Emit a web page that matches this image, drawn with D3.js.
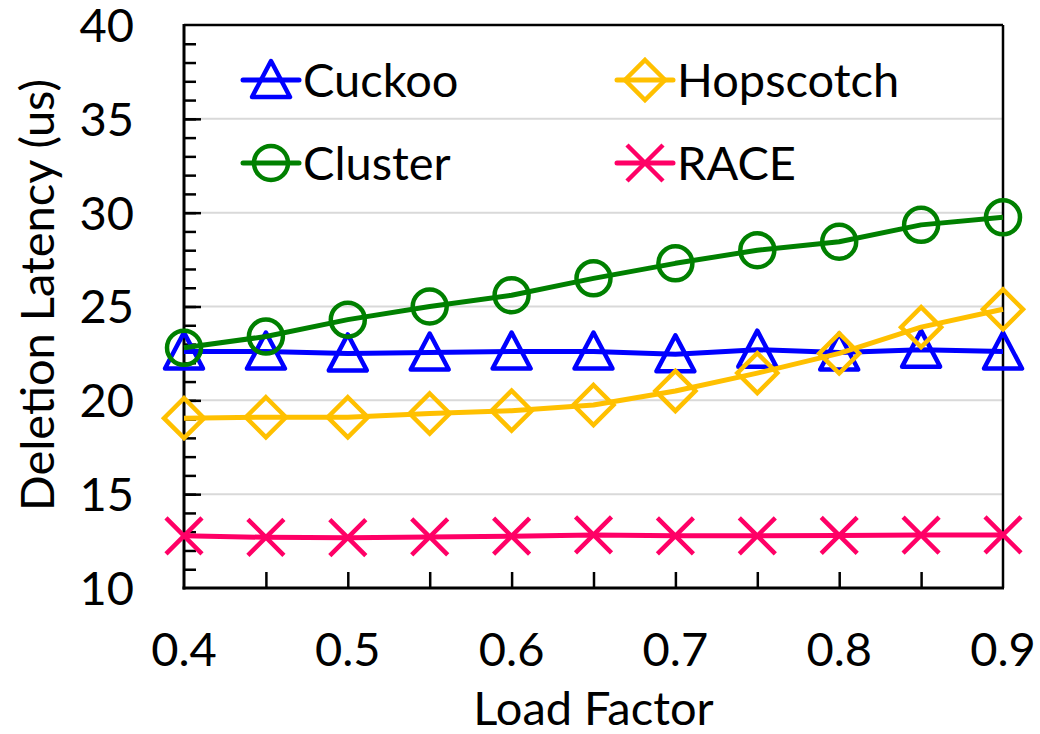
<!DOCTYPE html>
<html lang="en">
<head>
<meta charset="UTF-8">
<script src="https://cdn.jsdelivr.net/npm/d3@7/dist/d3.min.js"></script>
<title>Deletion Latency</title>
<style>
  body { margin: 0; background: #fff; }
  text { font-family: Lato, "Noto Sans", sans-serif; fill: #000; }
</style>
</head>
<body>
<script>
// data
const loadFactors = [0.4, 0.45, 0.5, 0.55, 0.6, 0.65, 0.7, 0.75, 0.8, 0.85, 0.9]
const cuckoo    = [22.6, 22.6, 22.5, 22.55, 22.6, 22.6, 22.45, 22.7, 22.55, 22.7, 22.6]
const cluster   = [22.8, 23.4, 24.3, 25.0, 25.6, 26.5, 27.3, 28.0, 28.45, 29.35, 29.75]
const hopscotch = [19.05, 19.1, 19.1, 19.3, 19.45, 19.75, 20.5, 21.45, 22.5, 23.9, 24.85]
const race      = [12.78, 12.7, 12.68, 12.72, 12.76, 12.83, 12.78, 12.78, 12.8, 12.82, 12.83]
const xTickLabels = [0.4, 0.5, 0.6, 0.7, 0.8, 0.9]
const yTickLabels = [10, 15, 20, 25, 30, 35, 40]

const series = [
  {name: "Cuckoo",    values: cuckoo,    color: "#0000ff", marker: "triangle"},
  {name: "Cluster",   values: cluster,   color: "#008000", marker: "circle"},
  {name: "Hopscotch", values: hopscotch, color: "#ffc000", marker: "diamond"},
  {name: "RACE",      values: race,      color: "#ff0066", marker: "cross"},
]

const width = 1040, height = 734
const pLeft = 184, pRight = 1003, pTop = 25, pBottom = 588
const fontSize = 47

const svg = d3.select("body").append("svg").attr("width", width).attr("height", height)

const x = d3.scaleLinear().domain([0.4, 0.9]).range([pLeft, pRight])
const y = d3.scaleLinear().domain([10, 40]).range([pBottom, pTop])

// grid lines
svg.append("g").selectAll("line")
  .data(yTickLabels.filter(v => v > 10 && v < 40))
  .join("line")
  .attr("x1", pLeft).attr("x2", pRight)
  .attr("y1", d => y(d)).attr("y2", d => y(d))
  .attr("stroke", "#d9d9d9").attr("stroke-width", 2)

// frame top/right
svg.append("line").attr("x1", pLeft).attr("x2", pRight).attr("y1", pTop).attr("y2", pTop)
  .attr("stroke", "#000").attr("stroke-width", 2.5)
svg.append("line").attr("x1", pRight).attr("x2", pRight).attr("y1", pTop).attr("y2", pBottom)
  .attr("stroke", "#000").attr("stroke-width", 2.5)

// y axis: minor ticks every 1, major every 5 (inside)
const yMinor = d3.axisRight(y).tickValues(d3.range(11, 40)).tickSize(12).tickFormat("")
const gyMinor = svg.append("g").attr("transform", `translate(${pLeft},0)`).call(yMinor)
gyMinor.select(".domain").remove()
gyMinor.selectAll("line").attr("stroke", "#000").attr("stroke-width", 2.5)

const yMajor = d3.axisRight(y).tickValues(yTickLabels.slice(1, -1)).tickSize(17).tickFormat("")
const gyMajor = svg.append("g").attr("transform", `translate(${pLeft},0)`).call(yMajor)
gyMajor.select(".domain").remove()
gyMajor.selectAll("line").attr("stroke", "#000").attr("stroke-width", 2.5)

// y labels
svg.append("g").selectAll("text")
  .data(yTickLabels)
  .join("text")
  .attr("x", 134).attr("y", d => y(d))
  .attr("dy", "0.36em")
  .attr("text-anchor", "end")
  .attr("font-size", fontSize)
  .text(d => d)

// x axis ticks (inside, upward)
const xAxis = d3.axisTop(x).tickValues(loadFactors.slice(1, -1)).tickSize(16).tickFormat("")
const gx = svg.append("g").attr("transform", `translate(0,${pBottom})`).call(xAxis)
gx.select(".domain").remove()
gx.selectAll("line").attr("stroke", "#000").attr("stroke-width", 2.5)

svg.append("g").selectAll("text")
  .data(xTickLabels)
  .join("text")
  .attr("x", d => x(d)).attr("y", 666)
  .attr("text-anchor", "middle")
  .attr("font-size", fontSize)
  .text(d => d.toFixed(1))

// axis lines
svg.append("line").attr("x1", pLeft).attr("x2", pLeft).attr("y1", pTop - 1).attr("y2", pBottom + 1.5)
  .attr("stroke", "#000").attr("stroke-width", 3)
svg.append("line").attr("x1", pLeft - 1.5).attr("x2", pRight + 1).attr("y1", pBottom).attr("y2", pBottom)
  .attr("stroke", "#000").attr("stroke-width", 3)

// titles
svg.append("text")
  .attr("x", (pLeft + pRight) / 2).attr("y", 725)
  .attr("text-anchor", "middle").attr("font-size", fontSize)
  .text("Load Factor")
svg.append("text")
  .attr("transform", `translate(54,295) rotate(-90)`)
  .attr("text-anchor", "middle").attr("font-size", fontSize)
  .text("Deletion Latency (us)")

// marker drawing
function drawMarker(g, type, color) {
  const sw = 4.5
  if (type === "triangle") {
    g.append("path").attr("d", "M0,-19 L19,17 L-19,17 Z")
      .attr("fill", "none").attr("stroke", color).attr("stroke-width", sw).attr("stroke-linejoin", "round")
  } else if (type === "circle") {
    g.append("circle").attr("r", 17)
      .attr("fill", "none").attr("stroke", color).attr("stroke-width", sw)
  } else if (type === "diamond") {
    g.append("path").attr("d", "M0,-20 L20,0 L0,20 L-20,0 Z")
      .attr("fill", "none").attr("stroke", color).attr("stroke-width", sw).attr("stroke-linejoin", "miter")
  } else {
    g.append("path").attr("d", "M-18,-18 L18,18 M-18,18 L18,-18")
      .attr("fill", "none").attr("stroke", color).attr("stroke-width", sw)
  }
}

const line = d3.line().x(d => x(d[0])).y(d => y(d[1]))

series.forEach(s => {
  const pts = loadFactors.map((lf, i) => [lf, s.values[i]])
  svg.append("path").datum(pts)
    .attr("d", line)
    .attr("fill", "none").attr("stroke", s.color).attr("stroke-width", 5)
    .attr("stroke-linejoin", "round")
  pts.forEach(p => {
    const g = svg.append("g").attr("transform", `translate(${x(p[0])},${y(p[1])})`)
    drawMarker(g, s.marker, s.color)
  })
})

// legend
const legendPos = [
  {lx: 243, ly: 80},
  {lx: 243, ly: 163},
  {lx: 617, ly: 80},
  {lx: 617, ly: 163},
]
series.forEach((s, i) => {
  const p = legendPos[i]
  const g = svg.append("g").attr("transform", `translate(${p.lx},${p.ly})`)
  g.append("line").attr("x1", 0).attr("x2", 56).attr("y1", 0).attr("y2", 0)
    .attr("stroke", s.color).attr("stroke-width", 5).attr("stroke-linecap", "round")
  const m = g.append("g").attr("transform", "translate(28,0)")
  drawMarker(m, s.marker, s.color)
  g.append("text").attr("x", 60).attr("y", 0).attr("dy", "0.36em")
    .attr("font-size", fontSize).text(s.name)
})
</script>
</body>
</html>
